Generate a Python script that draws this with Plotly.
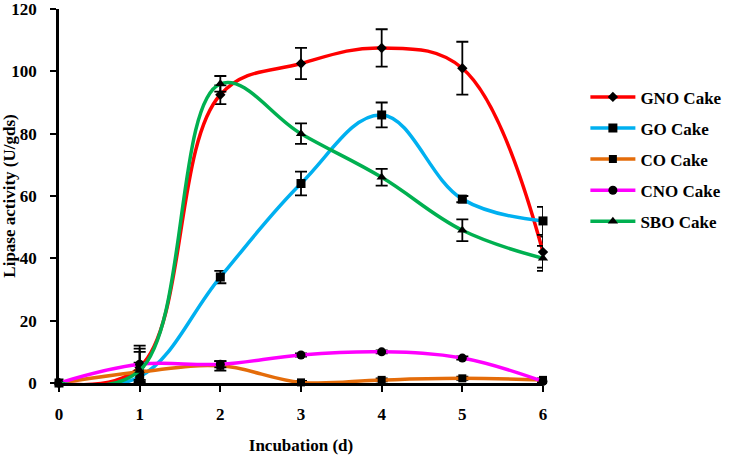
import plotly.graph_objects as go

days = [0, 1, 2, 3, 4, 5, 6]
series_names = ["GNO Cake", "GO Cake", "CO Cake", "CNO Cake", "SBO Cake"]
gno = [0, 5, 92.5, 102.5, 107.5, 101, 42]
gno_err = [0, 7, 3, 5, 6, 8.5, 5]
go_vals = [0, 2, 34, 64, 86, 59, 52]
go_err = [0, 2, 2, 3.8, 4, 1, 4.5]
co = [0, 3.5, 5.5, 0.2, 1, 1.5, 1]
co_err = [0, 3, 1.5, 0.5, 0.5, 0.5, 0.5]
cno = [0, 6, 6, 9, 10, 8, 0.5]
cno_err = [0, 5, 1, 0.5, 0.5, 0.5, 0.5]
sbo = [0, 4, 96, 80, 66, 49, 40]
sbo_err = [0, 6, 2.5, 3.3, 2.7, 3.5, 4]

colors = ["#FF0000", "#00B0F0", "#E46C0A", "#FF00FF", "#00B050"]
symbols = ["diamond", "square", "square", "circle", "triangle-up"]
sizes = [8, 9, 8, 9, 9]
values = [gno, go_vals, co, cno, sbo]
errors = [gno_err, go_err, co_err, cno_err, sbo_err]

font = "Liberation Serif"
fig = go.Figure()
for i, name in enumerate(series_names):
    fig.add_trace(go.Scatter(
        x=days, y=values[i], name=name, mode="lines+markers",
        line=dict(color=colors[i], width=3.5, shape="spline", smoothing=1.1),
        marker=dict(symbol=symbols[i], color="black", size=sizes[i]),
        error_y=dict(type="data", array=errors[i], visible=True,
                     color="black", thickness=1.8, width=6),
        cliponaxis=False, legendgroup=name,
    ))

fig.update_layout(
    width=729, height=456,
    margin=dict(l=59, r=186, t=9, b=73, autoexpand=False),
    plot_bgcolor="white", paper_bgcolor="white",
    font=dict(family=font, size=17, color="black"),
    showlegend=True,
    legend=dict(x=0.803, y=0.826, xref="container", yref="container",
                xanchor="left", yanchor="top",
                font=dict(family=font, size=17, color="black", weight="bold"),
                tracegroupgap=6, itemwidth=45, bgcolor="rgba(0,0,0,0)"),
    xaxis=dict(range=[0, 6], tickvals=days, ticks="outside", ticklen=6,
               tickwidth=2, tickcolor="black", showline=True, linecolor="black",
               linewidth=2.5, showgrid=False, zeroline=False, automargin=False,
               tickfont=dict(family=font, size=17, weight="bold"),
               ticklabelstandoff=8,
               title=dict(text="<b>Incubation (d)</b>", standoff=16,
                          font=dict(family=font, size=17))),
    yaxis=dict(range=[0, 120], tickvals=[0, 20, 40, 60, 80, 100, 120],
               ticks="outside", ticklen=6, tickwidth=2, tickcolor="black",
               showline=True, linecolor="black", linewidth=2.5, showgrid=False,
               zeroline=False, ticklabeloverflow="allow", automargin=False,
               tickfont=dict(family=font, size=17, weight="bold"),
               ticklabelstandoff=10,
               title=dict(text="<b>Lipase activity (U/gds)</b>", standoff=6,
                          font=dict(family=font, size=17))),
)
fig.write_html("out.html")
